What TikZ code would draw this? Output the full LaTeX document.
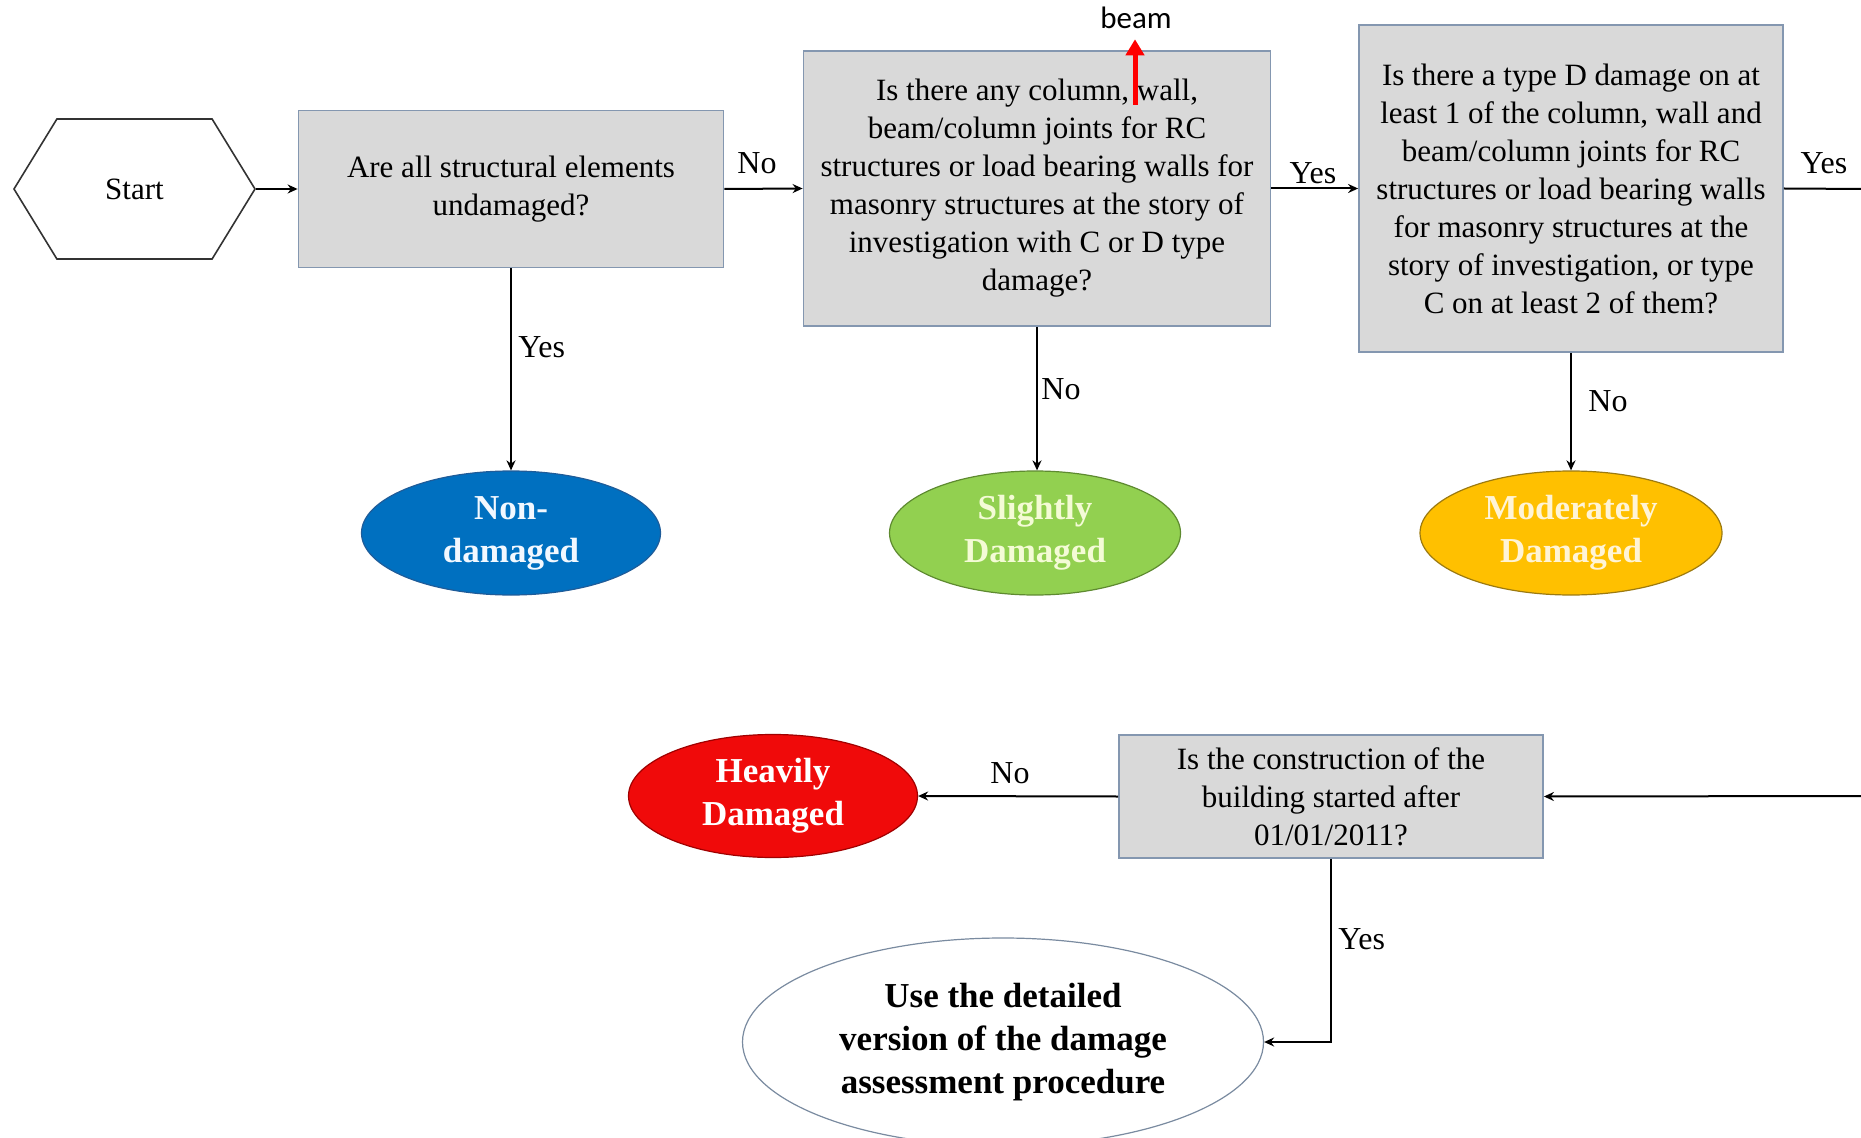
\documentclass[tikz,border=0pt]{standalone}
\usepackage{fontspec}
\setmainfont{Liberation Serif}
\newfontfamily\notefont{Carlito}
\usetikzlibrary{shapes.geometric,shapes.symbols,arrows.meta}

\definecolor{boxgrey}{HTML}{D9D9D9}
\definecolor{boxline}{HTML}{8497B0}
\definecolor{nondmg}{HTML}{0070C0}
\definecolor{nondmgline}{HTML}{1F5C99}
\definecolor{nondmgtext}{HTML}{F2F8FF}
\definecolor{slight}{HTML}{92D050}
\definecolor{slightline}{HTML}{5E8A30}
\definecolor{slighttext}{HTML}{F4FBD6}
\definecolor{moderate}{HTML}{FFC000}
\definecolor{moderateline}{HTML}{9C7A10}
\definecolor{moderatetext}{HTML}{FFF4D6}
\definecolor{heavy}{HTML}{F00A0A}
\definecolor{heavyline}{HTML}{A00000}
\definecolor{finalline}{HTML}{7A8BA0}

\begin{document}
\begin{tikzpicture}[x=0.5pt,y=-0.5pt,
  question/.style={draw=boxline, fill=boxgrey, line width=0.9pt, align=center,
    font=\fontsize{15.5}{19}\selectfont, inner sep=0pt},
  outcome/.style={ellipse, align=center, inner sep=0pt, line width=0.6pt,
    font=\fontsize{17.5}{21.5}\selectfont\bfseries},
  flow/.style={line width=1pt, -{Stealth[length=5pt,width=4.5pt]}},
  plainline/.style={line width=1pt},
  answer/.style={font=\fontsize{16}{19}\selectfont, inner sep=0pt},
]
\useasboundingbox (0,0) rectangle (1861,1138);

% start terminal
\node[signal, signal to=east and west, signal pointer angle=117,
  draw=black!80, line width=0.8pt, minimum width=120.5pt, minimum height=70pt,
  font=\fontsize{15.5}{19}\selectfont, inner sep=0pt] (start) at (134.5,189) {Start};

% decision boxes
\node[question, minimum width=212.5pt, minimum height=78.5pt] (q1) at (511,189)
  {Are all structural elements\\undamaged?};
\node[question, minimum width=233.5pt, minimum height=137.5pt] (q2) at (1037,188.5)
  {Is there any column, wall,\\beam/column joints for RC\\structures or load bearing walls for\\masonry structures at the story of\\investigation with C or D type\\damage?};
\node[question, minimum width=212pt, minimum height=163.5pt] (q3) at (1571,188.5)
  {Is there a type D damage on at\\least 1 of the column, wall and\\beam/column joints for RC\\structures or load bearing walls\\for masonry structures at the\\story of investigation, or type\\C on at least 2 of them?};
\node[question, minimum width=212pt, minimum height=61.5pt] (q4) at (1331,796.5)
  {Is the construction of the\\building started after\\01/01/2011?};

% outcomes
\node[outcome, fill=nondmg, draw=nondmgline, text=nondmgtext,
  minimum width=149.5pt, minimum height=62pt] (o1) at (511,533) {Non-\\damaged};
\node[outcome, fill=slight, draw=slightline, text=slighttext,
  minimum width=145.5pt, minimum height=62pt] (o2) at (1035,533) {Slightly\\Damaged};
\node[outcome, fill=moderate, draw=moderateline, text=moderatetext,
  minimum width=151pt, minimum height=62pt] (o3) at (1571,533) {Moderately\\Damaged};
\node[outcome, fill=heavy, draw=heavyline, text=white,
  minimum width=144.5pt, minimum height=61.5pt] (o4) at (773,796) {Heavily\\Damaged};
\node[outcome, fill=white, draw=finalline,
  minimum width=260.5pt, minimum height=104pt] (o5) at (1003,1042)
  {Use the detailed\\version of the damage\\assessment procedure};

% off-page continuation on the right
\coordinate (offA) at (1866,189);
\coordinate (offB) at (1866,796);

% connectors
\draw[flow] (start.east) -- (q1.west);
\draw[flow] (q1.east) -- (q2.west);
\draw[flow] (q2.east) -- (q3.west);
\draw[plainline] (q3.east) -- (offA);
\draw[flow] (offB) -- (q4.east);
\draw[flow] (q1.south) -- (o1.north);
\draw[flow] (q2.south) -- (q2.south |- o2.north);
\draw[flow] (q3.south) -- (o3.north);
\draw[flow] (q4.west) -- (o4.east);
\draw[flow] (q4.south) |- (o5.east);

% answer labels
\node[answer] (a1) at (757,163) {No};
\node[answer, anchor=west] (a2) at (518,347) {Yes};
\node[answer, anchor=west] (a3) at (1041,389) {No};
\node[answer] (a4) at (1313,173) {Yes};
\node[answer] (a5) at (1824,163) {Yes};
\node[answer] (a6) at (1608,401) {No};
\node[answer] (a7) at (1010,773) {No};
\node[answer, anchor=west] (a8) at (1338,939) {Yes};

% note marker
\node[font=\notefont\fontsize{15.5}{18}\selectfont, inner sep=0pt] (beam) at (1136,18) {beam};
\coordinate (beamfoot) at (1135,105);
\draw[red, line width=2.5pt, -{Triangle[length=8pt,width=9pt]}, shorten >=5pt]
  (beamfoot) -- (beamfoot |- beam.south);
\end{tikzpicture}
\end{document}
